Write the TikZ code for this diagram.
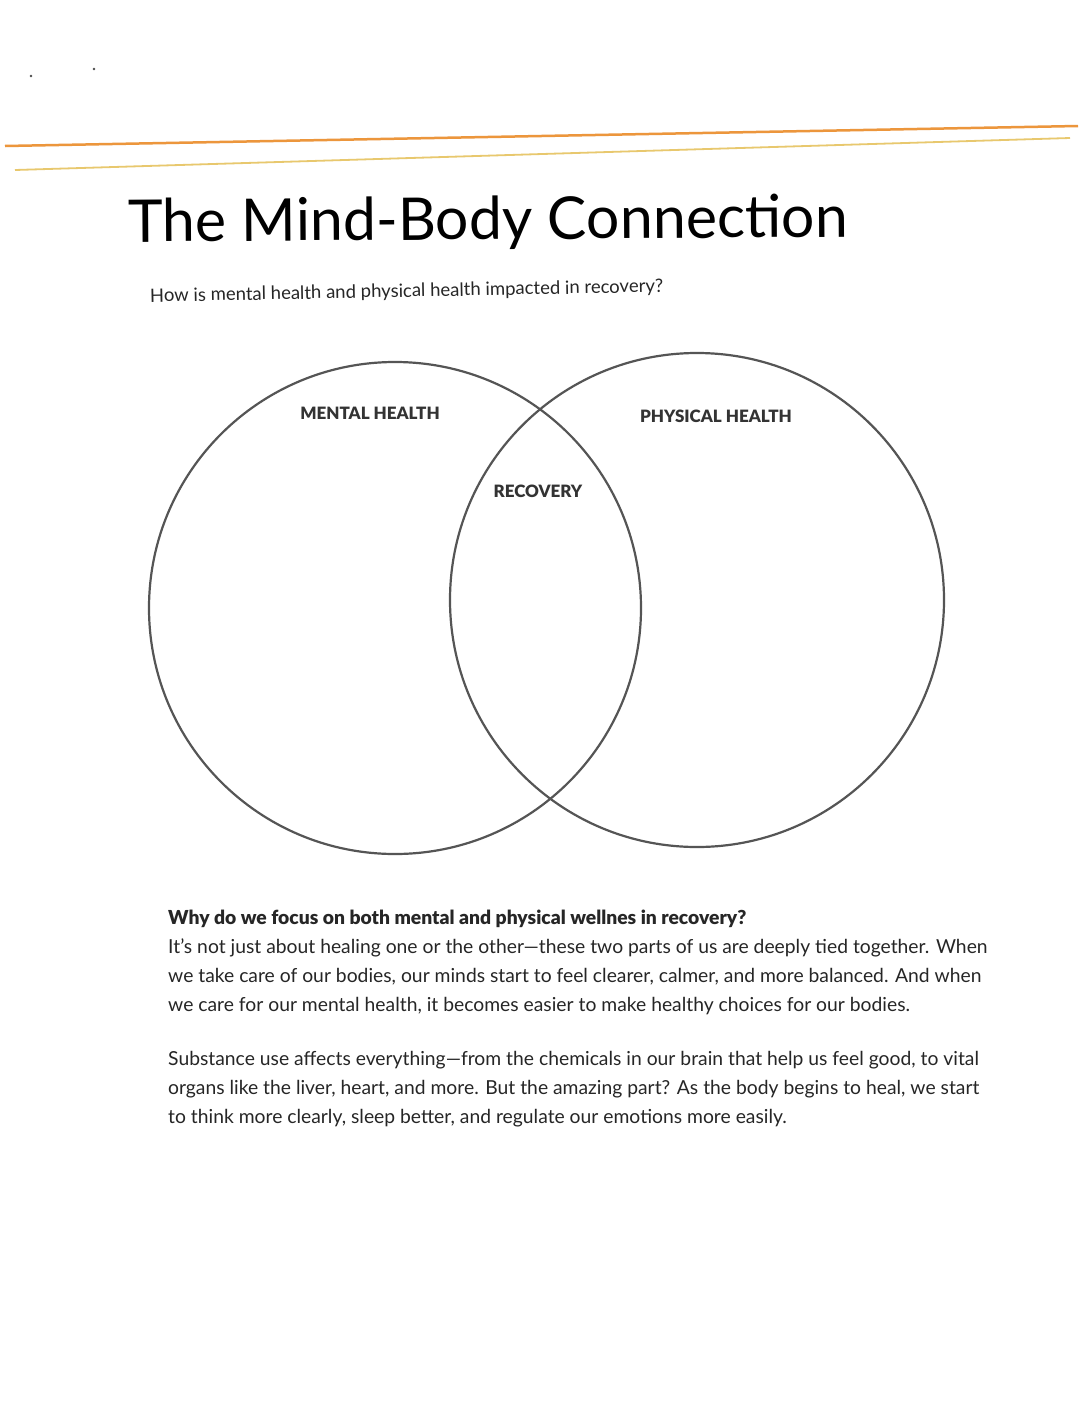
\documentclass[tikz,border=0pt]{standalone}
\usepackage{fontspec}
\setmainfont{Lato}[BoldFont=Lato Black]
\definecolor{stripeorange}{RGB}{236,150,60}
\definecolor{stripeyellow}{RGB}{232,200,110}
\definecolor{ringgray}{RGB}{85,85,85}
\tikzset{
  ring/.style={draw=ringgray,line width=2.2pt},
  label/.style={font=\fontsize{17}{20}\selectfont\bfseries,text=black!80},
  body/.style={font=\fontsize{19.3}{22}\selectfont,anchor=base west,inner sep=0pt,text=black!85}
}
\begin{document}
\begin{tikzpicture}[x=1pt,y=-1pt]
\useasboundingbox[fill=white] (0,0) rectangle (1088,1408);
%% header stripes
\draw[stripeorange,line width=2.5pt] (5,146) -- (1078,126);
\draw[stripeyellow,line width=1.8pt] (15,170) -- (1070,138);
\fill[black!70] (31,76) circle (1.3) (94,69) circle (1.3);
%% title and question
\node (title) [anchor=base west,inner sep=0pt,font=\fontsize{59}{70}\selectfont\rmfamily,rotate=0.4] at (128,242) {The Mind-Body Connection};
\node (question) [anchor=base west,inner sep=0pt,font=\fontsize{18.5}{22}\selectfont,text=black!85,rotate=1.1] at (150,302) {How is mental health and physical health impacted in recovery?};
%% circles
\node (mind) [ring,circle,minimum size=492pt,inner sep=0pt] at (395,608) {};
\node (body) [ring,circle,minimum size=494pt,inner sep=0pt] at (697,600) {};
\node (mindlabel) [label] at (370,413) {MENTAL HEALTH};
\node (bodylabel) [label] at (716,416) {PHYSICAL HEALTH};
\node (recovery) [label] at (538,491) {RECOVERY};
%% text block, one node per line
\node (head) [body,font=\fontsize{19.3}{22}\selectfont\bfseries] at (168,924) {Why do we focus on both mental and physical wellnes in recovery?};
\foreach \txt [count=\i] in {%
  {It’s not just about healing one or the other—these two parts of us are deeply tied together. When},
  {we take care of our bodies, our minds start to feel clearer, calmer, and more balanced. And when},
  {we care for our mental health, it becomes easier to make healthy choices for our bodies.}}
  \node (line\i) [body] at (168,924+29*\i) {\txt};
\foreach \txt [count=\i] in {%
  {Substance use affects everything—from the chemicals in our brain that help us feel good, to vital},
  {organs like the liver, heart, and more. But the amazing part? As the body begins to heal, we start},
  {to think more clearly, sleep better, and regulate our emotions more easily.}}
  \node (sub\i) [body] at (168,1036+29*\i) {\txt};
\end{tikzpicture}
\end{document}
